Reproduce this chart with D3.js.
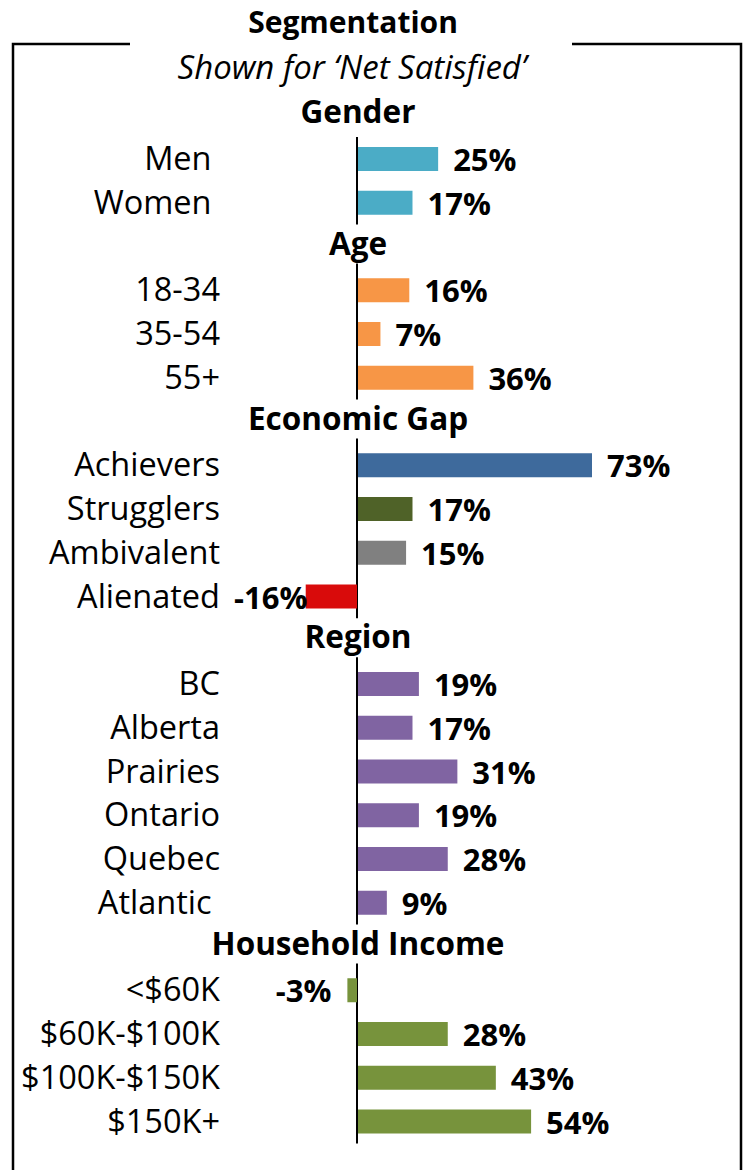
<html>
  <head>
    <meta charset="utf-8">
    <title>Segmentation</title>
    <style>
      body { margin: 0; background: #fff; }
      svg text { font-family: "Open Sans", sans-serif; white-space: pre; }
    </style>
  </head>
  <body>
    <script src="https://d3js.org/d3.v7.min.js"></script>
    <script>
    var widthCanvas = 750;
    var heightCanvas = 1170;

    // data
    var headers = ["Gender", "Age", "Economic Gap", "Region", "Household Income"];
    var groupSizes = [2, 3, 4, 6, 4];
    var categories = ["Men ", "Women ", "18-34", "35-54", "55+",
                      "Achievers", "Strugglers", "Ambivalent", "Alienated",
                      "BC", "Alberta", "Prairies", "Ontario", "Quebec", "Atlantic ",
                      "<$60K", "$60K-$100K", "$100K-$150K", "$150K+"];
    var values = [25, 17, 16, 7, 36, 73, 17, 15, -16, 19, 17, 31, 19, 28, 9, -3, 28, 43, 54];
    var barColors = ["#4bacc6", "#4bacc6", "#f79646", "#f79646", "#f79646",
                     "#3e6a9c", "#4f6228", "#808080", "#d90b0b",
                     "#8064a2", "#8064a2", "#8064a2", "#8064a2", "#8064a2", "#8064a2",
                     "#77933c", "#77933c", "#77933c", "#77933c"];

    // build rows: header row then its categories
    var rows = [];
    var k = 0;
    headers.forEach(function(h, g) {
      rows.push({type: "header", text: h});
      for (var i = 0; i < groupSizes[g]; i++) {
        rows.push({type: "bar", text: categories[k], value: values[k], color: barColors[k]});
        k++;
      }
    });

    var svg = d3.select("body").append("svg")
                .attr("width", widthCanvas)
                .attr("height", heightCanvas);

    var x = d3.scaleLinear().domain([0, 73]).range([357, 591]);
    var y = d3.scalePoint().domain(d3.range(rows.length)).range([115.25, 1121.5]);
    var barH = 24;

    // frame
    svg.append("path")
       .attr("d", "M130,44 H13 V1175 M572,44 H741 V1175")
       .attr("fill", "none").attr("stroke", "#000").attr("stroke-width", 2.5);

    // titles
    svg.append("text").attr("x", 353).attr("y", 33).attr("text-anchor", "middle")
       .style("font-size", "30px").style("font-weight", "bold").text("Segmentation");
    svg.append("text").attr("x", 352).attr("y", 79).attr("text-anchor", "middle")
       .style("font-size", "33px").style("font-style", "italic").text("Shown for \u2018Net Satisfied\u2019");

    // zero line
    svg.append("line")
       .attr("x1", x(0)).attr("x2", x(0))
       .attr("y1", y(1) - 22).attr("y2", y(rows.length - 1) + 22)
       .attr("stroke", "#000").attr("stroke-width", 2);

    var barRows = rows.map(function(d, i) { return {d: d, i: i}; }).filter(function(r) { return r.d.type == "bar"; });
    var headRows = rows.map(function(d, i) { return {d: d, i: i}; }).filter(function(r) { return r.d.type == "header"; });

    svg.selectAll(".bar").data(barRows).enter().append("rect")
       .attr("x", function(r) { return Math.min(x(0), x(r.d.value)) + (r.d.value > 0 ? 1 : 0); })
       .attr("y", function(r) { return y(r.i) - barH / 2; })
       .attr("width", function(r) { return Math.abs(x(r.d.value) - x(0)); })
       .attr("height", barH)
       .attr("fill", function(r) { return r.d.color; });

    svg.selectAll(".cat").data(barRows).enter().append("text")
       .attr("x", 220)
       .attr("y", function(r) { return y(r.i) + 11; })
       .attr("text-anchor", "end")
       .style("font-size", "32.5px")
       .text(function(r) { return r.d.text; });

    svg.selectAll(".val").data(barRows).enter().append("text")
       .attr("y", function(r) { return y(r.i) + 12; })
       .style("font-size", "31px").style("font-weight", "bold")
       .text(function(r) { return r.d.value + "%"; })
       .each(function(r) {
         var w = this.getComputedTextLength();
         var xs;
         if (r.d.value >= 0) { xs = x(r.d.value) + 16; }
         else { xs = Math.max(x(r.d.value) - 16 - w, 234); }
         d3.select(this).attr("x", xs);
       });

    // headers with white box covering the zero line
    var hg = svg.selectAll(".head").data(headRows).enter().append("g");
    hg.append("rect")
      .attr("x", x(0) - 6).attr("width", 12)
      .attr("y", function(r) { return y(r.i) - 22; })
      .attr("height", 39)
      .attr("fill", "#fff");
    hg.append("text")
      .attr("x", 358)
      .attr("y", function(r) { return y(r.i) + 8; })
      .attr("text-anchor", "middle")
      .style("font-size", "31.5px").style("font-weight", "bold")
      .text(function(r) { return r.d.text; });
    </script>
  </body>
</html>
